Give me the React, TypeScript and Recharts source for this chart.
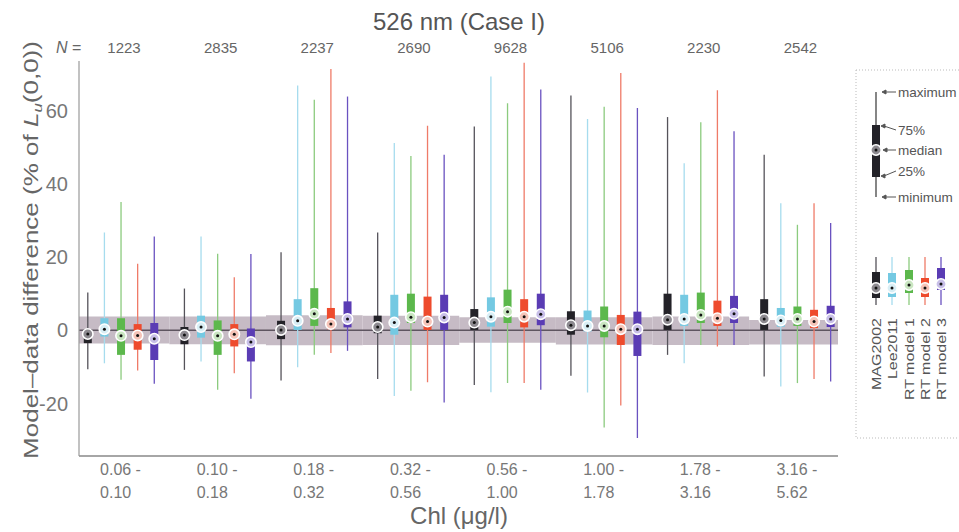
import { ComposedChart, Scatter, ErrorBar, XAxis, YAxis, ReferenceArea, ReferenceLine } from "recharts";

const CHL_LO = ["0.06 -", "0.10 -", "0.18 -", "0.32 -", "0.56 -", "1.00 -", "1.78 -", "3.16 -"];
const CHL_HI = ["0.10", "0.18", "0.32", "0.56", "1.00", "1.78", "3.16", "5.62"];
const N_COUNTS = [1223, 2835, 2237, 2690, 9628, 5106, 2230, 2542];
const MODELS = ["MAG2002", "Lee2011", "RT model 1", "RT model 2", "RT model 3"];
const Y_TICKS = [-20, 0, 20, 40, 60];

// rows = chl bins, columns = models (MAG2002, Lee2011, RT1, RT2, RT3)
const MINS = [
  [-10.6, -9.0, -13.5, -11.0, -14.6],
  [-10.8, -8.5, -16.2, -11.7, -18.7],
  [-13.7, -10.1, -6.7, -6.2, -5.6],
  [-13.3, -17.9, -16.5, -14.2, -19.7],
  [-14.9, -16.9, -14.4, -14.4, -16.2],
  [-12.4, -17.0, -26.5, -20.5, -29.4],
  [-6.7, -9.0, -4.0, -4.4, -4.0],
  [-12.6, -15.3, -14.4, -13.3, -14.0],
];
const Q1S = [
  [-3.5, -1.7, -6.7, -5.3, -8.1],
  [-3.8, -2.0, -6.7, -4.4, -8.5],
  [-2.4, 0.1, 1.2, 0.3, 0.8],
  [-0.8, -1.2, 2.0, 0.1, 0.1],
  [0.1, 1.0, 2.0, 0.8, 1.4],
  [-1.2, -0.3, -1.9, -4.0, -7.0],
  [0.1, 1.2, 2.0, 1.2, 2.0],
  [0.1, 1.0, 1.2, 0.6, 0.9],
];
const MEDIANS = [
  [-1.0, 0.3, -1.5, -1.4, -2.3],
  [-1.3, 0.9, -1.5, -1.1, -3.2],
  [0.1, 2.6, 4.5, 1.7, 3.1],
  [0.9, 2.1, 3.6, 2.4, 3.5],
  [2.1, 3.7, 5.1, 3.7, 4.4],
  [1.4, 1.2, 1.2, 0.3, 0.3],
  [2.9, 3.1, 4.2, 3.3, 4.5],
  [3.1, 2.7, 3.1, 2.4, 3.1],
];
const Q3S = [
  [0.3, 3.3, 3.3, 1.7, 2.0],
  [0.9, 4.0, 2.7, 1.7, 0.5],
  [2.6, 8.5, 11.5, 6.1, 7.9],
  [4.0, 9.7, 10.0, 9.2, 9.7],
  [5.8, 9.0, 11.1, 8.5, 10.0],
  [5.2, 5.4, 6.5, 4.2, 5.1],
  [10.0, 9.7, 10.3, 8.1, 9.4],
  [8.5, 6.1, 6.5, 5.6, 6.7],
];
const MAXS = [
  [10.3, 26.7, 35.0, 18.2, 25.6],
  [11.4, 25.6, 20.9, 14.5, 20.8],
  [21.3, 66.8, 62.9, 71.3, 63.8],
  [26.7, 51.1, 47.6, 55.8, 47.9],
  [55.6, 69.3, 62.0, 73.0, 65.7],
  [64.1, 57.7, 61.0, 70.2, 60.7],
  [58.2, 45.6, 56.8, 65.5, 54.3],
  [47.9, 34.7, 28.8, 34.7, 29.3],
];
// grey uncertainty band around zero, per chl bin
const BAND_HI = [3.8, 3.8, 4.1, 4.0, 3.6, 3.6, 3.8, 2.8];
const BAND_LO = [-3.6, -3.8, -4.1, -4.0, -3.4, -3.9, -4.0, -3.9];

const BOX_COLORS = ["#232228", "#74c9e2", "#5cb84c", "#ee4b2d", "#5a3cb4"];
const WHISKER_COLORS = ["#55535a", "#a6dcee", "#8ccb7e", "#ef7b68", "#6a52c0"];
const MEDIAN_FILL = ["#8d8a90", "#d8eef5", "#c9e6c1", "#f6c4b8", "#c8bfe8"];

const XMIN = 0.565;
const XMAX = 8.42;
const YMIN = -34.3;
const YMAX = 73.5;
const STEP = 0.172;
const FONT = "'Liberation Sans', Arial, sans-serif";

const seriesData = (m: number) =>
  MEDIANS.map((row, g) => ({
    x: g + 1 + (m - 2) * STEP,
    y: row[m],
    whisker: [row[m] - MINS[g][m], MAXS[g][m] - row[m]],
    box: [row[m] - Q1S[g][m], Q3S[g][m] - row[m]],
  }));

const medianShape = (m: number) => (props: any) => {
  const { cx, cy } = props;
  if (cx == null || cy == null) return <g />;
  return (
    <g>
      <circle cx={cx} cy={cy} r={5.2} fill={MEDIAN_FILL[m]} stroke="#fff" strokeWidth={1.6} />
      <circle cx={cx} cy={cy} r={1.5} fill="#111" />
    </g>
  );
};

// bottom tick: two-line chl range, plus the N count above the plot
const ChlTick = (props: any) => {
  const { x, y, payload } = props;
  const i = payload.value - 1;
  return (
    <g fontFamily={FONT}>
      <text x={x - 21} y={y + 11} fontSize={16} fill="#777">
        <tspan x={x - 21}>{CHL_LO[i]}</tspan>
        <tspan x={x - 21} dy={23}>{CHL_HI[i]}</tspan>
      </text>
      <text x={x + 3} y={53} textAnchor="middle" fontSize={15} fill="#666">
        {N_COUNTS[i]}
      </text>
    </g>
  );
};

const LEG_X = [876, 892, 909, 925, 941];
const LEG_TOP = [272, 273, 270, 278, 268];
const LEG_BOT = [298, 297, 293, 297, 290];
const LEG_MED = [288, 288, 285, 288, 284];

const Mark = ({ x, y, m }: { x: number; y: number; m: number }) => (
  <g>
    <circle cx={x} cy={y} r={5.2} fill={MEDIAN_FILL[m]} stroke="#fff" strokeWidth={1.6} />
    <circle cx={x} cy={y} r={1.5} fill="#111" />
  </g>
);

const Arrow = ({ x1, y1, x2, y2 }: { x1: number; y1: number; x2: number; y2: number }) => (
  <g stroke="#555" strokeWidth={1}>
    <line x1={x1 + 3} y1={y1} x2={x2} y2={y2} />
    <polygon points={`${x1},${y1} ${x1 + 4},${y1 - 2} ${x1 + 4},${y1 + 2}`} fill="#555" />
  </g>
);

const Overlay = () => (
  <svg width={959} height={532} style={{ position: "absolute", left: 0, top: 0, pointerEvents: "none" }}>
    <text x={459} y={30} textAnchor="middle" fontSize={24} fill="#555" fontFamily={FONT}>
      526 nm (Case I)
    </text>
    <text x={56} y={53} fontSize={16} fill="#666" fontFamily={FONT}>
      <tspan fontStyle="italic">N</tspan> =
    </text>
    <text
      transform="translate(38 250) rotate(-90) scale(1.3 1)"
      textAnchor="middle"
      fontSize={20}
      fill="#666"
      fontFamily={FONT}
    >
      Model–data difference (% of <tspan fontStyle="italic">L</tspan>
      <tspan fontStyle="italic" fontSize={13} dy={4}>u</tspan>
      <tspan dy={-4}>(0,0))</tspan>
    </text>
    <text x={459} y={524} textAnchor="middle" fontSize={24} fill="#666" fontFamily={FONT}>
      Chl (μg/l)
    </text>

    <rect x={856} y={70} width={120} height={368} fill="none" stroke="#bbb" strokeDasharray="1 2" />
    <line x1={876} y1={92} x2={876} y2={197} stroke="#444" strokeWidth={1.3} />
    <line x1={876} y1={125} x2={876} y2={177} stroke="#232228" strokeWidth={8} />
    <Mark x={876} y={150} m={0} />
    <g fontSize={13.5} fill="#555" fontFamily={FONT}>
      <Arrow x1={882} y1={92} x2={896} y2={92} />
      <text x={898} y={97}>maximum</text>
      <Arrow x1={881} y1={126} x2={896} y2={130} />
      <text x={898} y={135}>75%</text>
      <Arrow x1={883} y1={150} x2={896} y2={150} />
      <text x={898} y={155}>median</text>
      <Arrow x1={881} y1={176} x2={896} y2={171} />
      <text x={898} y={176}>25%</text>
      <Arrow x1={882} y1={197} x2={896} y2={197} />
      <text x={898} y={202}>minimum</text>
    </g>
    {MODELS.map((name, m) => (
      <g key={name}>
        <line x1={LEG_X[m]} y1={257} x2={LEG_X[m]} y2={305} stroke={WHISKER_COLORS[m]} strokeWidth={1.3} />
        <line x1={LEG_X[m]} y1={LEG_TOP[m]} x2={LEG_X[m]} y2={LEG_BOT[m]} stroke={BOX_COLORS[m]} strokeWidth={8} />
        <Mark x={LEG_X[m]} y={LEG_MED[m]} m={m} />
        <text
          transform={`translate(${LEG_X[m] + 5} 318) rotate(-90) scale(1.28 1)`}
          textAnchor="end"
          fontSize={12.5}
          fill="#555"
          fontFamily={FONT}
        >
          {name}
        </text>
      </g>
    ))}
  </svg>
);

export default function App() {
  return (
    <div style={{ position: "absolute", left: 0, top: 0, width: 959, height: 532, background: "#fff" }}>
      <ComposedChart width={959} height={532} margin={{ top: 61, right: 121, bottom: 0, left: 0 }}>
        <XAxis
          xAxisId="b"
          type="number"
          dataKey="x"
          domain={[XMIN, XMAX]}
          ticks={[1, 2, 3, 4, 5, 6, 7, 8]}
          allowDataOverflow
          height={76}
          tickLine={false}
          axisLine={{ stroke: "#888", strokeWidth: 1.5 }}
          tick={<ChlTick />}
        />
        <YAxis
          type="number"
          dataKey="y"
          domain={[YMIN, YMAX]}
          ticks={Y_TICKS}
          allowDataOverflow
          width={79}
          tickLine={false}
          tickSize={6}
          tickMargin={5}
          axisLine={{ stroke: "#999", strokeWidth: 1.2 }}
          tick={{ fontSize: 20, fill: "#777", fontFamily: FONT }}
        />
        {BAND_HI.map((hi, g) => (
          <ReferenceArea
            key={g}
            xAxisId="b"
            x1={Math.max(XMIN, g + 0.5)}
            x2={Math.min(XMAX, g + 1.5)}
            y1={BAND_LO[g]}
            y2={hi}
            fill="#c6bbc5"
            fillOpacity={1}
            stroke="none"
          />
        ))}
        <ReferenceLine xAxisId="b" y={0} stroke="#5e5560" strokeWidth={1.5} />
        {MODELS.map((name, m) => (
          <Scatter
            key={name}
            name={name}
            xAxisId="b"
            data={seriesData(m)}
            isAnimationActive={false}
            shape={medianShape(m)}
          >
            <ErrorBar dataKey="whisker" direction="y" width={0} stroke={WHISKER_COLORS[m]} strokeWidth={1.3} isAnimationActive={false} />
            <ErrorBar dataKey="box" direction="y" width={0} stroke={BOX_COLORS[m]} strokeWidth={8} isAnimationActive={false} />
          </Scatter>
        ))}
      </ComposedChart>
      <Overlay />
    </div>
  );
}
